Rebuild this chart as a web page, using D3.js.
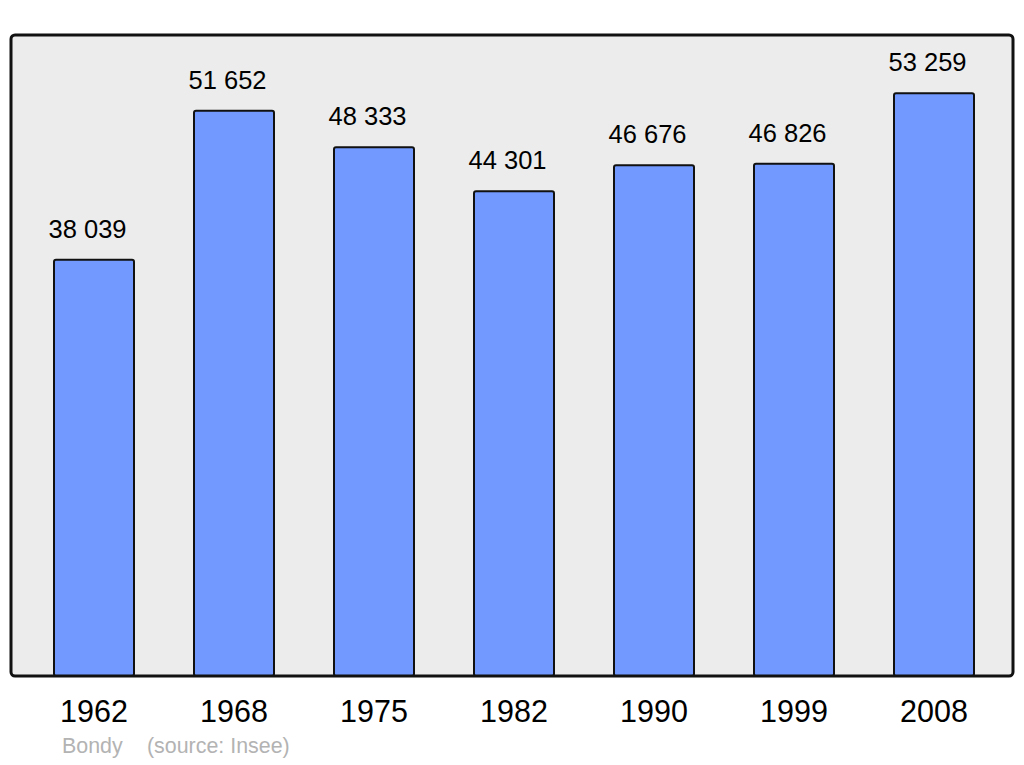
<!DOCTYPE html>
<html>
<head>
  <meta charset="utf-8">
  <title>Bondy</title>
  <script src="https://d3js.org/d3.v7.min.js"></script>
  <style>
    body { margin: 0; background: #fff; }
    text { font-family: "Liberation Sans", Arial, sans-serif; }
  </style>
</head>
<body>
  <div id="chart"></div>
  <script>
    // data
    var years = ["1962", "1968", "1975", "1982", "1990", "1999", "2008"];
    var population = [38039, 51652, 48333, 44301, 46676, 46826, 53259];
    var valueLabels = ["38 039", "51 652", "48 333", "44 301", "46 676", "46 826", "53 259"];

    var width = 1024, height = 765;
    var frame = {left: 11, right: 1013, top: 35, bottom: 676};

    var svg = d3.select("#chart")
      .append("svg")
        .attr("width", width)
        .attr("height", height);

    // background
    svg.append("rect")
      .attr("x", frame.left)
      .attr("y", frame.top)
      .attr("width", frame.right - frame.left)
      .attr("height", frame.bottom - frame.top)
      .attr("rx", 4)
      .attr("fill", "#ececec");

    var x = d3.scaleBand()
      .domain(years)
      .range([24, 1004])
      .paddingInner(60 / 140)
      .paddingOuter(30 / 140);

    var y = d3.scaleLinear()
      .domain([0, d3.max(population) * 1.1])
      .range([frame.bottom, frame.top]);

    var data = years.map(function(d, i) {
      return {year: d, value: population[i], label: valueLabels[i]};
    });

    // bars
    svg.append("g")
      .selectAll("rect")
      .data(data)
      .enter()
      .append("rect")
        .attr("x", function(d) { return x(d.year); })
        .attr("y", function(d) { return y(d.value); })
        .attr("width", x.bandwidth())
        .attr("height", function(d) { return y(0) - y(d.value); })
        .attr("rx", 2)
        .attr("fill", "#7299ff")
        .attr("stroke", "#111")
        .attr("stroke-width", 2);

    // frame outline on top of the bars
    svg.append("rect")
      .attr("x", frame.left)
      .attr("y", frame.top)
      .attr("width", frame.right - frame.left)
      .attr("height", frame.bottom - frame.top)
      .attr("rx", 4)
      .attr("fill", "none")
      .attr("stroke", "#111")
      .attr("stroke-width", 3);

    // value labels (sit a little left of the bar centre, as in the original)
    svg.append("g")
      .selectAll("text")
      .data(data)
      .enter()
      .append("text")
        .attr("x", function(d) { return x(d.year) + x.bandwidth() / 2 - 6.5; })
        .attr("y", function(d) { return y(d.value) - 22; })
        .attr("text-anchor", "middle")
        .style("font-size", "25.5px")
        .attr("fill", "#000")
        .text(function(d) { return d.label; });

    // year labels
    var xAxis = d3.axisBottom(x).tickSize(0).tickPadding(0);
    var axisG = svg.append("g")
      .attr("transform", "translate(0," + frame.bottom + ")")
      .call(xAxis);
    axisG.select(".domain").remove();
    axisG.selectAll("text")
      .attr("y", 46)
      .attr("dy", 0)
      .style("font-size", "30.5px")
      .style("font-family", "'Liberation Sans', Arial, sans-serif")
      .attr("fill", "#000");

    // source
    svg.append("text")
      .attr("x", 62)
      .attr("y", 753)
      .style("font-size", "21.4px")
      .attr("fill", "#b3b3b3")
      .text("Bondy");
    svg.append("text")
      .attr("x", 147)
      .attr("y", 753)
      .style("font-size", "21.4px")
      .attr("fill", "#b3b3b3")
      .text("(source: Insee)");
  </script>
</body>
</html>
